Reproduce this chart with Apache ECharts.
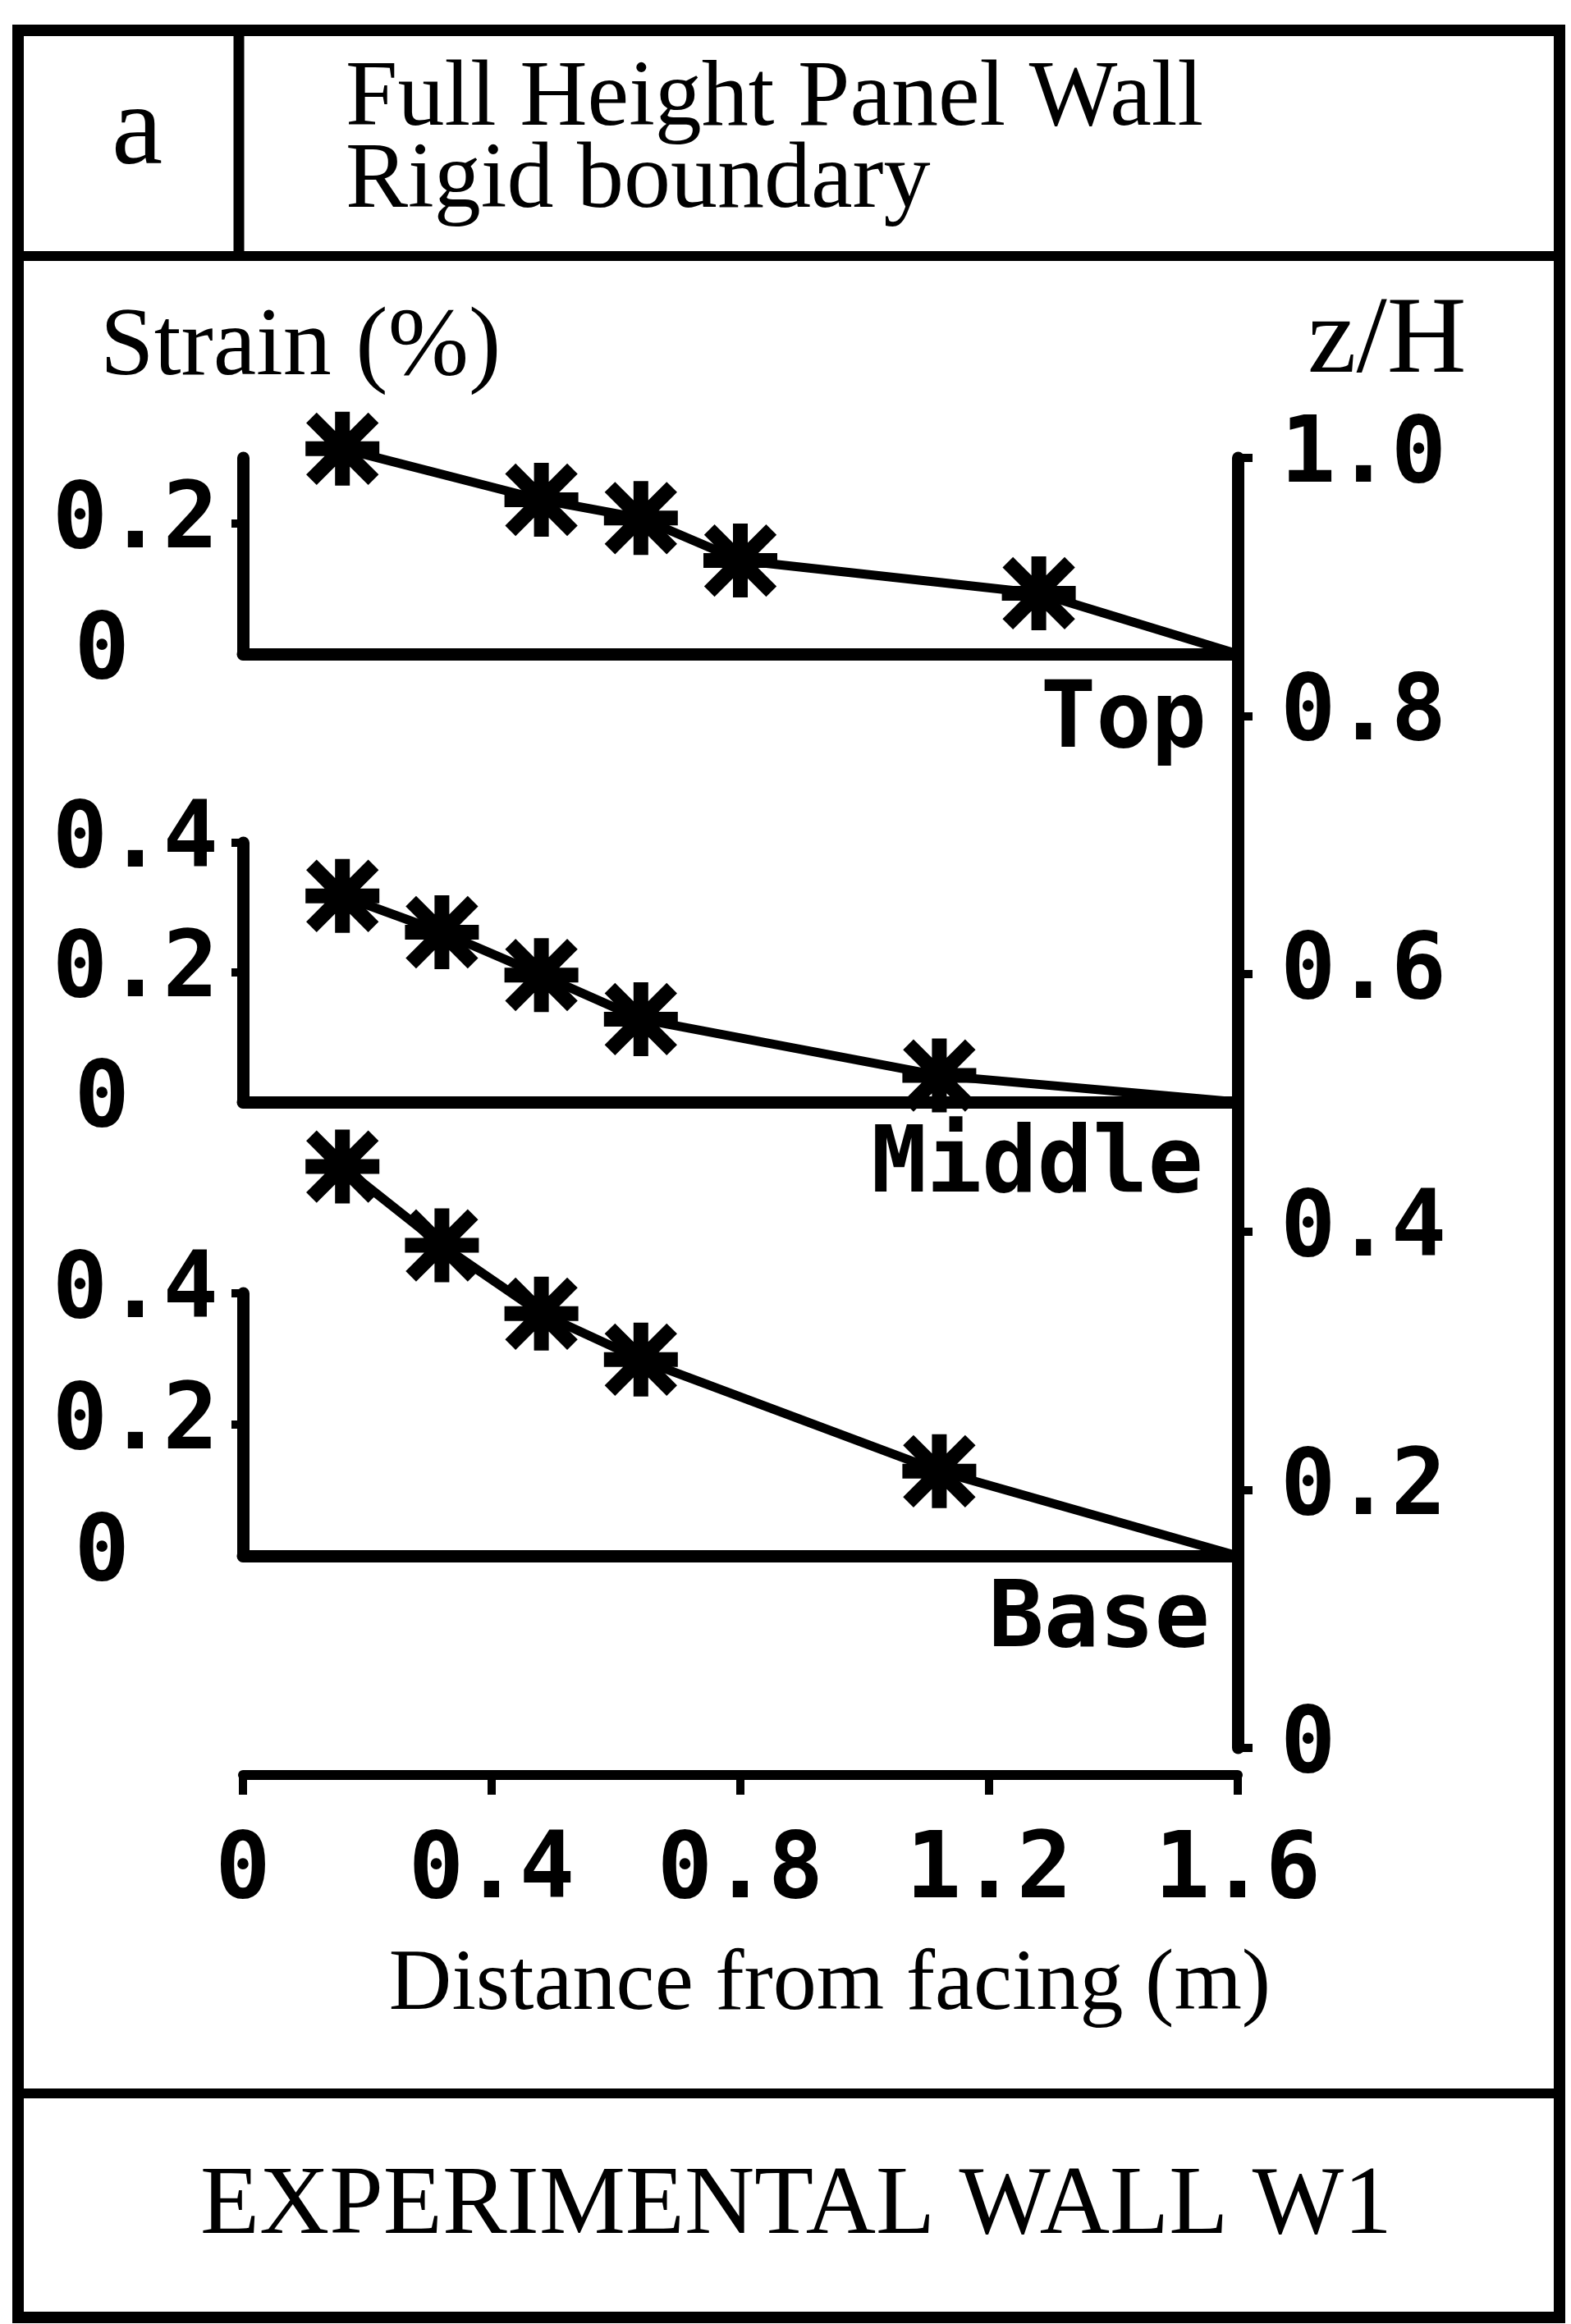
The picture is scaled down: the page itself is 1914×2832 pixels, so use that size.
<!DOCTYPE html>
<html>
<head>
<meta charset="utf-8">
<title>Experimental wall W1 - strain profiles</title>
<script src="https://cdn.jsdelivr.net/npm/echarts@6/dist/echarts.min.js"></script>
<style>
  html, body { margin: 0; padding: 0; background: #fff; }
  #chart { width: 1914px; height: 2832px; }
</style>
</head>
<body>
<div id="chart"></div>
<script>
// distance from facing (m) and strain (%) at each level
const distTop = [0.16, 0.48, 0.64, 0.80, 1.28, 1.6];
const strainTop = [0.314, 0.236, 0.208, 0.143, 0.093, 0];
const distMid = [0.16, 0.32, 0.48, 0.64, 1.12, 1.6];
const strainMid = [0.318, 0.262, 0.196, 0.128, 0.041, 0];
const distBase = [0.16, 0.32, 0.48, 0.64, 1.12, 1.6];
const strainBase = [0.593, 0.473, 0.369, 0.299, 0.129, 0];

// tick values
const distTicks = [0, 0.4, 0.8, 1.2, 1.6];
const zhTicks = [0, 0.2, 0.4, 0.6, 0.8, 1.0];
const strainTicksTop = [0, 0.2];
const strainTicks = [0, 0.2, 0.4];

const MONO = "DejaVu Sans Mono";
const SERIF = "Liberation Serif";
const INK = "#000";

// asterisk marker (4 bars crossing + filled centre)
const STAR = "path://M40 0L60 0L60 100L40 100Z M0 40L100 40L100 60L0 60Z " +
  "M15.07 0.93L99.07 84.93L84.93 99.07L0.93 15.07Z " +
  "M84.93 0.93L99.07 15.07L15.07 99.07L0.93 84.93Z " +
  "M30 30L70 30L70 70L30 70Z";

function toPoints(xs, ys) {
  return xs.map((x, i) => {
    // last point sits on the far axis, no marker there
    if (i === xs.length - 1) return { value: [x, ys[i]], symbol: "none" };
    return [x, ys[i]];
  });
}

const monoLabel = { fontFamily: MONO, fontWeight: "bold", fontSize: 112, color: INK };

function strainAxis(gridIndex, max, ticks) {
  return {
    type: "value", gridIndex: gridIndex, min: 0, max: max, interval: 0.1,
    axisLine: { show: true, onZero: false, lineStyle: { color: INK, width: 15 } },
    axisTick: { show: true, customValues: ticks.filter(v => v > 0), length: 14,
      lineStyle: { color: INK, width: 10 } },
    axisLabel: Object.assign({}, monoLabel, {
      customValues: ticks, margin: 30,
      formatter: v => v === 0 ? "{z|0}" : v.toFixed(1),
      rich: { z: Object.assign({}, monoLabel, { padding: [0, 108, 0, 0] }) }
    }),
    splitLine: { show: false }
  };
}

function panelX(gridIndex) {
  return {
    type: "value", gridIndex: gridIndex, min: 0, max: 1.6,
    axisLine: { show: true, onZero: false, lineStyle: { color: INK, width: 15 } },
    axisTick: { show: false }, axisLabel: { show: false }, splitLine: { show: false }
  };
}

function levelSeries(idx, xs, ys) {
  return {
    type: "line", xAxisIndex: idx, yAxisIndex: idx,
    data: toPoints(xs, ys),
    clip: false,
    symbol: STAR, symbolSize: 90, showSymbol: true,
    itemStyle: { color: INK },
    lineStyle: { color: INK, width: 11 },
    animation: false
  };
}

function txt(x, y, text, font, size, align, weight) {
  return {
    type: "text", x: x, y: y, z: 10,
    style: {
      text: text, fontFamily: font, fontSize: size, fontWeight: weight || "normal",
      fill: INK, align: align, textAlign: align,
      verticalAlign: "middle", textVerticalAlign: "middle"
    }
  };
}

const chart = echarts.init(document.getElementById("chart"));

const option = {
  backgroundColor: "#fff",
  animation: false,
  grid: [
    { left: 296, width: 1212, top: 558, height: 239 },   // top
    { left: 296, width: 1212, top: 1027, height: 316 },  // middle
    { left: 296, width: 1212, top: 1576, height: 320 },  // base
    { left: 296, width: 1212, top: 558, height: 1572 }   // z/H frame
  ],
  xAxis: [
    panelX(0), panelX(1), panelX(2),
    {
      type: "value", gridIndex: 3, min: 0, max: 1.6, interval: 0.4,
      position: "bottom", offset: 33,
      axisLine: { show: true, onZero: false, lineStyle: { color: INK, width: 12 } },
      axisTick: { show: true, length: 24, lineStyle: { color: INK, width: 10 } },
      axisLabel: Object.assign({}, monoLabel, {
        customValues: distTicks, margin: 64,
        formatter: v => v === 0 ? "0" : v.toFixed(1)
      }),
      splitLine: { show: false }
    }
  ],
  yAxis: [
    strainAxis(0, 0.3, strainTicksTop),
    strainAxis(1, 0.4, strainTicks),
    strainAxis(2, 0.4, strainTicks),
    {
      type: "value", gridIndex: 3, min: 0, max: 1, interval: 0.2, position: "right",
      axisLine: { show: true, onZero: false, lineStyle: { color: INK, width: 15 } },
      axisTick: { show: true, customValues: zhTicks, length: 18, lineStyle: { color: INK, width: 10 } },
      axisLabel: Object.assign({}, monoLabel, {
        customValues: zhTicks, margin: 52,
        formatter: v => v === 0 ? "0" : v.toFixed(1)
      }),
      splitLine: { show: false }
    }
  ],
  series: [
    levelSeries(0, distTop, strainTop),
    levelSeries(1, distMid, strainMid),
    levelSeries(2, distBase, strainBase)
  ],
  graphic: [
    // frame
    { type: "rect", shape: { x: 22, y: 37, width: 1878, height: 2787 },
      style: { fill: "none", stroke: INK, lineWidth: 14 } },
    { type: "line", shape: { x1: 22, y1: 312, x2: 1900, y2: 312 },
      style: { stroke: INK, lineWidth: 12 } },
    { type: "line", shape: { x1: 291, y1: 37, x2: 291, y2: 312 },
      style: { stroke: INK, lineWidth: 13 } },
    { type: "line", shape: { x1: 22, y1: 2551, x2: 1900, y2: 2551 },
      style: { stroke: INK, lineWidth: 12 } },
    // header and labels
    txt(167, 162, "a", SERIF, 140, "center"),
    txt(421, 122, "Full Height Panel Wall", SERIF, 114, "left"),
    txt(421, 222, "Rigid boundary", SERIF, 114, "left"),
    txt(122, 425, "Strain (%)", SERIF, 118, "left"),
    txt(1593, 418, "z/H", SERIF, 134, "left"),
    txt(1470, 881, "Top", MONO, 112, "right", "bold"),
    txt(1466, 1423, "Middle", MONO, 112, "right", "bold"),
    txt(1474, 1977, "Base", MONO, 112, "right", "bold"),
    txt(1011, 2420, "Distance from facing (m)", SERIF, 106, "center"),
    txt(970, 2690, "EXPERIMENTAL WALL W1", SERIF, 118, "center")
  ]
};

chart.setOption(option);
</script>
</body>
</html>
